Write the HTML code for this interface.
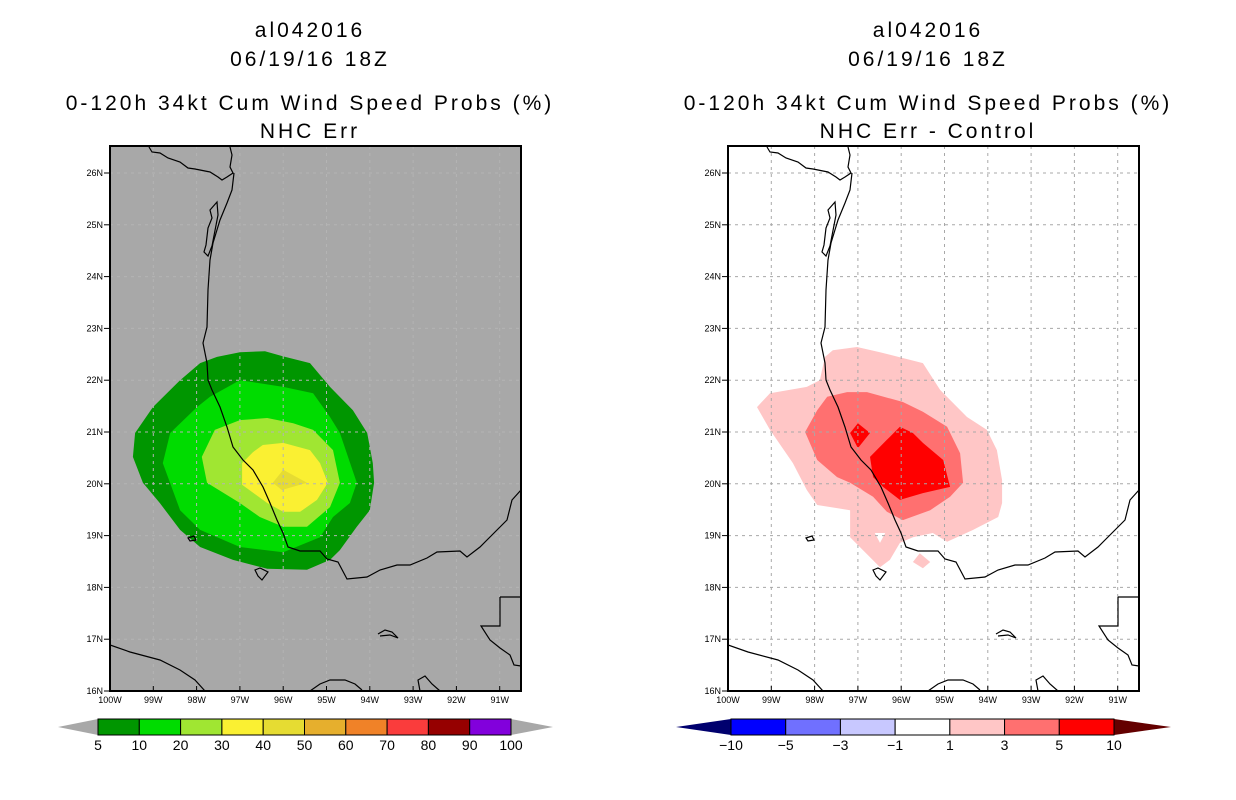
<!DOCTYPE html>
<html><head><meta charset="utf-8">
<style>
html,body{margin:0;padding:0;background:#fff;}
svg{display:block;}
text{font-family:"Liberation Sans",sans-serif;}
.t{font-size:21px;text-anchor:middle;fill:#000;letter-spacing:3px;}
.ax{font-size:9px;fill:#000;}
.cb{font-size:14px;text-anchor:middle;fill:#000;}
</style></head>
<body>
<svg id="fig" width="1236" height="800" viewBox="0 0 1236 800" xmlns="http://www.w3.org/2000/svg">
<defs>
<clipPath id="clipL"><rect x="110" y="146" width="411" height="545"/></clipPath>
<g id="coast" fill="none" stroke="#000" stroke-width="1.2">
<path d="M149,147 L152,152 L160,153 L168,158 L180,162 L188,168 L195,169 L210,172 L218,177 L222,180 L227,177 L233,173 L230,167 L232,155 L230,147"/>
<path d="M234,173 L232,190 L227,203 L220,220 L213,243 L210,260 L208,290 L207,327 L203,343 L207,363 L208,380 L212,390 L220,407 L227,427 L233,447 L243,460 L253,470 L263,487 L270,503 L277,520 L283,533 L288,547 L300,551 L320,551 L327,559 L338,562 L347,579 L367,577 L380,570 L397,565 L410,565 L427,558 L437,552 L460,551 L467,557 L480,547 L487,540 L507,520 L512,500 L521,490"/>
<path d="M217,202 L210,210 L212,218 L208,228 L206,245 L204,252 L208,256 L212,246 L218,215 Z"/>
<path d="M110,645 L130,652 L160,660 L180,670 L195,680 L205,691"/>
<path d="M310,691 L320,684 L330,680 L345,680 L355,684 L362,690"/>
<path d="M420,691 L418,680 L425,676 L432,684 L440,691"/>
<path d="M500,597 L521,597 M500,597 L500,626 L481,626 L490,640 L500,648 L510,655 L514,665 L521,666"/>
<path d="M378,634 L385,630 L392,632 L398,638 L390,635 L380,636"/>
<path d="M255,570 L260,568 L268,572 L262,580 L258,576 Z"/>
<path d="M188,538 L194,536 L196,540 L190,541 Z"/>
</g>
</defs>

<text class="t" x="310" y="37">al042016</text>
<text class="t" x="310" y="66">06/19/16 18Z</text>
<text class="t" x="310" y="110">0-120h 34kt Cum Wind Speed Probs (%)</text>
<text class="t" x="310" y="138">NHC Err</text>
<text class="t" x="928" y="37">al042016</text>
<text class="t" x="928" y="66">06/19/16 18Z</text>
<text class="t" x="928" y="110">0-120h 34kt Cum Wind Speed Probs (%)</text>
<text class="t" x="928" y="138">NHC Err - Control</text>

<g id="panelL"></g>
<g id="panelR" transform="translate(618,0)"></g>
<g id="cbL"></g>
<g id="cbR"></g>
</svg>

<script>
const lonTicks = [100,99,98,97,96,95,94,93,92,91];
const latTicks = [16,17,18,19,20,21,22,23,24,25,26];
const probLevels = ["5","10","20","30","40","50","60","70","80","90","100"];
const probColors = ["#009600","#00dc00","#a0e632","#faf032","#e6dc32","#e6af2d","#f08228","#fa3c3c","#960000","#8200dc"];
const diffLevels = ["-10","-5","-3","-1","1","3","5","10"];
const diffColors = ["#0000ff","#7070ff","#c8c8ff","#ffffff","#ffc6c6","#ff7070","#ff0000"];
const prob5 = [[97.53,22.45],[97.0,22.54],[96.42,22.56],[96.0,22.46],[95.38,22.33],[94.92,21.87],[94.39,21.42],[94.06,20.98],[93.93,20.40],[93.90,20.02],[94.0,19.49],[94.30,19.17],[94.69,18.72],[94.92,18.53],[95.45,18.34],[96.37,18.36],[97.16,18.53],[97.92,18.78],[98.38,19.11],[98.85,19.63],[99.24,20.02],[99.47,20.52],[99.42,20.98],[99.01,21.48],[98.38,22.0],[97.92,22.33]];
const prob10 = [[97.0,22.0],[96.0,21.87],[95.31,21.75],[94.92,21.29],[94.69,20.98],[94.30,20.02],[94.46,19.63],[94.85,19.36],[95.15,18.97],[96.0,18.68],[97.0,18.78],[97.92,19.11],[98.38,19.49],[98.78,20.40],[98.61,20.98],[97.99,21.48],[97.69,21.68]];
const prob20 = [[97.0,21.23],[96.37,21.27],[95.77,21.17],[95.31,21.04],[94.85,20.65],[94.69,20.02],[94.92,19.55],[95.45,19.17],[96.0,19.17],[96.54,19.36],[97.0,19.63],[97.76,20.02],[97.88,20.52],[97.58,21.04]];
const prob30 = [[96.47,20.75],[96.0,20.79],[95.38,20.65],[95.15,20.40],[94.97,20.02],[95.22,19.69],[95.61,19.46],[96.0,19.46],[96.37,19.63],[96.95,19.98],[96.95,20.40],[96.70,20.61]];
const prob40 = [[96.0,20.27],[95.45,20.02],[96.03,19.88],[96.24,20.02]];
const diff1 = [[97.58,22.58],[97.02,22.64],[96.49,22.54],[95.50,22.33],[95.10,21.81],[94.48,21.29],[94.02,21.04],[93.79,20.65],[93.67,20.07],[93.67,19.63],[93.76,19.36],[94.34,19.11],[94.94,18.88],[95.27,19.05],[95.73,18.97],[96.03,18.86],[96.26,18.53],[96.49,18.39],[97.18,18.97],[97.18,19.49],[97.94,19.59],[98.18,19.88],[98.50,20.40],[99.03,21.04],[99.33,21.48],[99.03,21.75],[98.18,21.87],[97.88,22.0],[97.76,22.45]];
const diff1hole = [[96.61,19.05],[96.37,19.05],[96.49,18.86]];
const diff1b = [[95.57,18.66],[95.33,18.49],[95.50,18.37],[95.73,18.49]];
const diff3 = [[97.71,21.68],[97.25,21.77],[96.79,21.77],[95.96,21.58],[95.50,21.39],[94.94,21.10],[94.64,20.59],[94.57,20.02],[94.87,19.75],[95.33,19.49],[95.96,19.30],[96.33,19.46],[96.65,19.75],[97.18,20.02],[97.48,20.13],[97.94,20.46],[98.22,21.0],[97.94,21.42]];
const diff5 = [[96.03,21.10],[95.73,20.98],[95.50,20.79],[95.03,20.46],[94.87,19.94],[95.50,19.82],[96.03,19.69],[96.42,19.94],[96.65,20.13],[96.72,20.52],[96.33,20.85]];
const diff5b = [[97.0,21.17],[96.72,20.98],[97.0,20.69],[97.18,20.98]];

const X = lon => 110 + (100 - lon) * 43.3;
const Y = lat => 691 - (lat - 16) * 51.8;
const NS = "http://www.w3.org/2000/svg";
function mk(tag, attrs, parent){ const e=document.createElementNS(NS,tag); for(const k in attrs) e.setAttribute(k,attrs[k]); parent.appendChild(e); return e; }
function poly(pts){ return pts.map(p=>X(p[0]).toFixed(1)+","+Y(p[1]).toFixed(1)).join(" "); }

function buildPanel(g, bg, layers, gridColor){
  const bgRect = mk("rect",{x:110,y:146,width:411,height:545,fill:bg},g);
  
  
  const cg = mk("g",{"clip-path":"url(#clipL)"},g);
  layers.forEach(l=>{
    const p = mk("polygon",{points:poly(l.pts),fill:l.color},cg);
    
    
  });
  const gg = mk("g",{stroke:gridColor,"stroke-width":1,"stroke-dasharray":"3,4",fill:"none"},cg);
  
  
  lonTicks.slice(1).forEach(l=>mk("line",{x1:X(l),x2:X(l),y1:146,y2:691},gg));
  latTicks.slice(1).forEach(l=>mk("line",{x1:110,x2:521,y1:Y(l),y2:Y(l)},gg));
  const cu = mk("use",{href:"#coast"},cg);
  
  
  const fr = mk("rect",{x:110,y:146,width:411,height:545,fill:"none",stroke:"#000","stroke-width":2},g);
  
  
  lonTicks.forEach(l=>{
    mk("line",{x1:X(l),x2:X(l),y1:691,y2:686,stroke:"#000","stroke-width":1},g);
    const t = mk("text",{x:X(l),y:703,"class":"ax","text-anchor":"middle"},g);
    t.textContent = l+"W";
    
    
  });
  latTicks.forEach(l=>{
    mk("line",{x1:104,x2:110,y1:Y(l),y2:Y(l),stroke:"#000","stroke-width":1},g);
    const t = mk("text",{x:103,y:Y(l)+3,"class":"ax","text-anchor":"end"},g);
    t.textContent = l+"N";
    
    
  });
}

buildPanel(document.getElementById("panelL"), "#a8a8a8", [
  {pts:prob5,color:probColors[0],name:"contour-5"},
  {pts:prob10,color:probColors[1],name:"contour-10"},
  {pts:prob20,color:probColors[2],name:"contour-20"},
  {pts:prob30,color:probColors[3],name:"contour-30"},
  {pts:prob40,color:probColors[4],name:"contour-40"}
], "#b4b4b4");
buildPanel(document.getElementById("panelR"), "#ffffff", [
  {pts:diff1,color:diffColors[4],name:"contour-diff-1"},
  {pts:diff1hole,color:"#ffffff",name:"contour-diff-hole"},
  {pts:diff1b,color:diffColors[4],name:"contour-diff-1-island"},
  {pts:diff3,color:diffColors[5],name:"contour-diff-3"},
  {pts:diff5,color:diffColors[6],name:"contour-diff-5"},
  {pts:diff5b,color:diffColors[6],name:"contour-diff-5-small"}
], "#a8a8a8");

function colorbar(g, x0, x1, tipL, tipR, colors, labels, lowC, highC){
  const y0=719, y1=735, ym=727, w=(x1-x0)/colors.length;
  const tl = mk("polygon",{points:`${tipL},${ym} ${x0},${y0} ${x0},${y1}`,fill:lowC},g);
  
  
  const tr = mk("polygon",{points:`${tipR},${ym} ${x1},${y0} ${x1},${y1}`,fill:highC},g);
  
  
  colors.forEach((c,i)=>{
    const r = mk("rect",{x:x0+i*w,y:y0,width:w,height:y1-y0,fill:c,stroke:"#000","stroke-width":1},g);
    
    
  });
  labels.forEach((s,i)=>{
    const t = mk("text",{x:x0+i*w,y:750,"class":"cb"},g);
    t.textContent = s.replace("-","\u2212");
    
    
  });
}
colorbar(document.getElementById("cbL"), 98, 511, 58, 553, probColors, probLevels, "#a8a8a8", "#a8a8a8");
colorbar(document.getElementById("cbR"), 731, 1114, 676, 1171, diffColors, diffLevels, "#00006e", "#640000");
</script>
</body></html>
